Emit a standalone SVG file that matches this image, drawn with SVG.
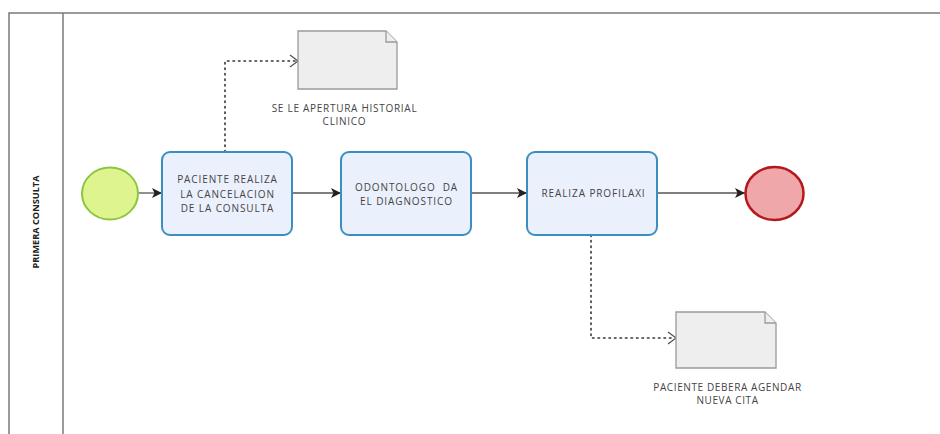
<svg xmlns="http://www.w3.org/2000/svg" width="940" height="434" viewBox="0 0 940 434">
<style>
.frame{fill:none;stroke:#7a7a7a;stroke-width:1.5}
.task{fill:#ebf0fd;stroke:#3b8ec2;stroke-width:2}
.txt{font-family:"Open Sans","Liberation Sans",sans-serif;font-size:10px;fill:#444;text-anchor:middle;letter-spacing:0.9px}
.lbl{font-family:"Open Sans","Liberation Sans",sans-serif;font-size:10px;fill:#444;text-anchor:middle;letter-spacing:0.6px}
.flow{fill:none;stroke:#555;stroke-width:1.3}
.assoc{fill:none;stroke:#333;stroke-width:1.6;stroke-dasharray:1.5 4;stroke-linecap:round}
.doc{fill:#eeeeee;stroke:#9a9a9a;stroke-width:1.3}
</style>
<defs>
<marker id="arr" viewBox="0 0 10 10" refX="10" refY="5" markerWidth="10" markerHeight="10" markerUnits="userSpaceOnUse" orient="auto">
<path d="M0,0 L10,5 L0,10 L2.5,5 Z" fill="#222"/>
</marker>
</defs>
<rect width="940" height="434" fill="#ffffff"/>
<g id="pool">
<path class="frame" d="M9,434 V13 H940"/>
<line class="frame" x1="63" y1="13" x2="63" y2="434"/>
<text x="0" y="0" transform="translate(38.5,222) rotate(-90)" style="font-family:'Open Sans','Liberation Sans',sans-serif;font-size:9.2px;font-weight:bold;fill:#222;text-anchor:middle">PRIMERA CONSULTA</text>
</g>
<g id="connectors">
<line class="flow" x1="138" y1="193" x2="162" y2="193" marker-end="url(#arr)"/>
<line class="flow" x1="292" y1="193" x2="341" y2="193" marker-end="url(#arr)"/>
<line class="flow" x1="471" y1="193" x2="527" y2="193" marker-end="url(#arr)"/>
<line class="flow" x1="657" y1="193" x2="745" y2="193" marker-end="url(#arr)"/>
<path class="assoc" d="M225,152 V61 H296"/>
<path d="M290,55 L298,61 L290,67" fill="none" stroke="#555" stroke-width="1.3"/>
<path class="assoc" d="M591,235 V338 H674"/>
<path d="M668,332 L676,338 L668,344" fill="none" stroke="#555" stroke-width="1.3"/>
</g>
<g id="start">
<ellipse cx="110" cy="193.5" rx="28" ry="26" fill="#def48f" stroke="#8cc63f" stroke-width="2"/>
</g>
<g id="task1">
<rect class="task" x="162" y="152" width="130" height="83" rx="8"/>
<text class="txt" x="227.5" y="183">PACIENTE REALIZA</text>
<text class="txt" x="227.5" y="197.5">LA CANCELACION</text>
<text class="txt" x="227.5" y="212">DE LA CONSULTA</text>
</g>
<g id="task2">
<rect class="task" x="341" y="152" width="130" height="83" rx="8"/>
<text class="txt" x="406.5" y="190.5" xml:space="preserve">ODONTOLOGO  DA</text>
<text class="txt" x="406.5" y="205">EL DIAGNOSTICO</text>
</g>
<g id="task3">
<rect class="task" x="527" y="152" width="130" height="83" rx="8"/>
<text class="txt" x="593.5" y="197">REALIZA PROFILAXI</text>
</g>
<g id="end">
<ellipse cx="774.5" cy="193.5" rx="29" ry="26.5" fill="#f0a7a9" stroke="#b3191c" stroke-width="2.5"/>
</g>
<g id="doc1">
<path class="doc" d="M298,31 H386 L397,42 V89 H298 Z"/>
<path class="doc" d="M386,31 V42 H397" fill="none"/>
<text class="lbl" x="344.5" y="111.5" style="letter-spacing:0.72px">SE LE APERTURA HISTORIAL</text>
<text class="lbl" x="344.5" y="124.5" style="letter-spacing:0.72px">CLINICO</text>
</g>
<g id="doc2">
<path class="doc" d="M676,312 H765 L776,323 V368 H676 Z"/>
<path class="doc" d="M765,312 V323 H776" fill="none"/>
<text class="lbl" x="727.5" y="390.5">PACIENTE DEBERA AGENDAR</text>
<text class="lbl" x="727.5" y="403.5">NUEVA CITA</text>
</g>
</svg>
